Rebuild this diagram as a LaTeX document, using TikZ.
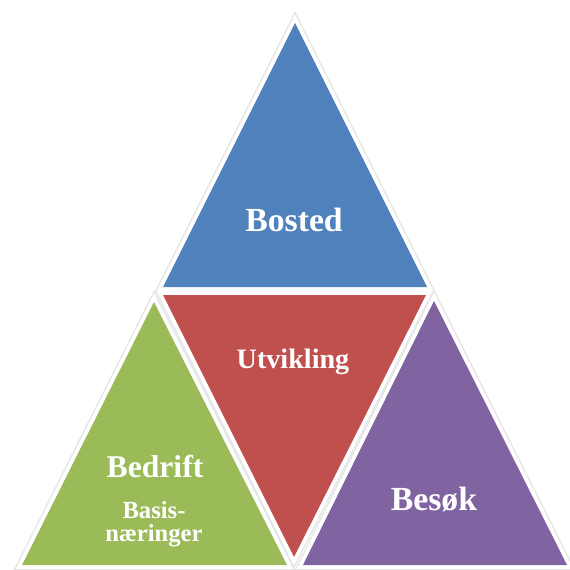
\documentclass[tikz,border=0pt]{standalone}
\usepackage{fontspec}
\setmainfont{Liberation Serif}
\usetikzlibrary{math}
\definecolor{myblue}{RGB}{79,129,189}
\definecolor{myred}{RGB}{192,80,77}
\definecolor{mygreen}{RGB}{155,187,89}
\definecolor{mypurple}{RGB}{128,100,162}

\tikzset{
  halo/.style={draw=black!10, line width=7.5pt, line join=miter},
  rim/.style={draw=white, line width=5.5pt, line join=miter},
  lbl/.style={text=white, inner sep=0pt, anchor=base, font=\bfseries\fontsize{#1}{#1}\selectfont},
}

\begin{document}
\begin{tikzpicture}[x=0.025cm, y=-0.025cm]
\useasboundingbox (0,0) rectangle (570,570);
%triangles (corner points)
\def\Bosted{(295,23) -- (163,287) -- (427,287) -- cycle}
\def\Utvikling{(163,295) -- (426,295) -- (294,557) -- cycle}
\def\Bedrift{(154,302) -- (287,565) -- (22,565) -- cycle}
\def\Besok{(434,301) -- (567,565) -- (303,565) -- cycle}

%shadow and white rim
\foreach \t in {\Bosted,\Utvikling,\Bedrift,\Besok}{
  \draw[halo] \t;
}
\foreach \t in {\Bosted,\Utvikling,\Bedrift,\Besok}{
  \draw[rim] \t;
}
%fills
\fill[myblue] \Bosted;
\fill[myred] \Utvikling;
\fill[mygreen] \Bedrift;
\fill[mypurple] \Besok;

%labels
\node[lbl=24] (bosted) at (294,231) {Bosted};
\node[lbl=20] (utvikling) at (293,368) {Utvikling};
\node[lbl=22.5] (bedrift) at (155,477) {Bedrift};
\node[lbl=17.5] (basis) at (154,518) {Basis-};
\node[lbl=17.5] (naering) at (154,541) {næringer};
\node[lbl=24] (besok) at (434,510) {Besøk};
\end{tikzpicture}
\end{document}
